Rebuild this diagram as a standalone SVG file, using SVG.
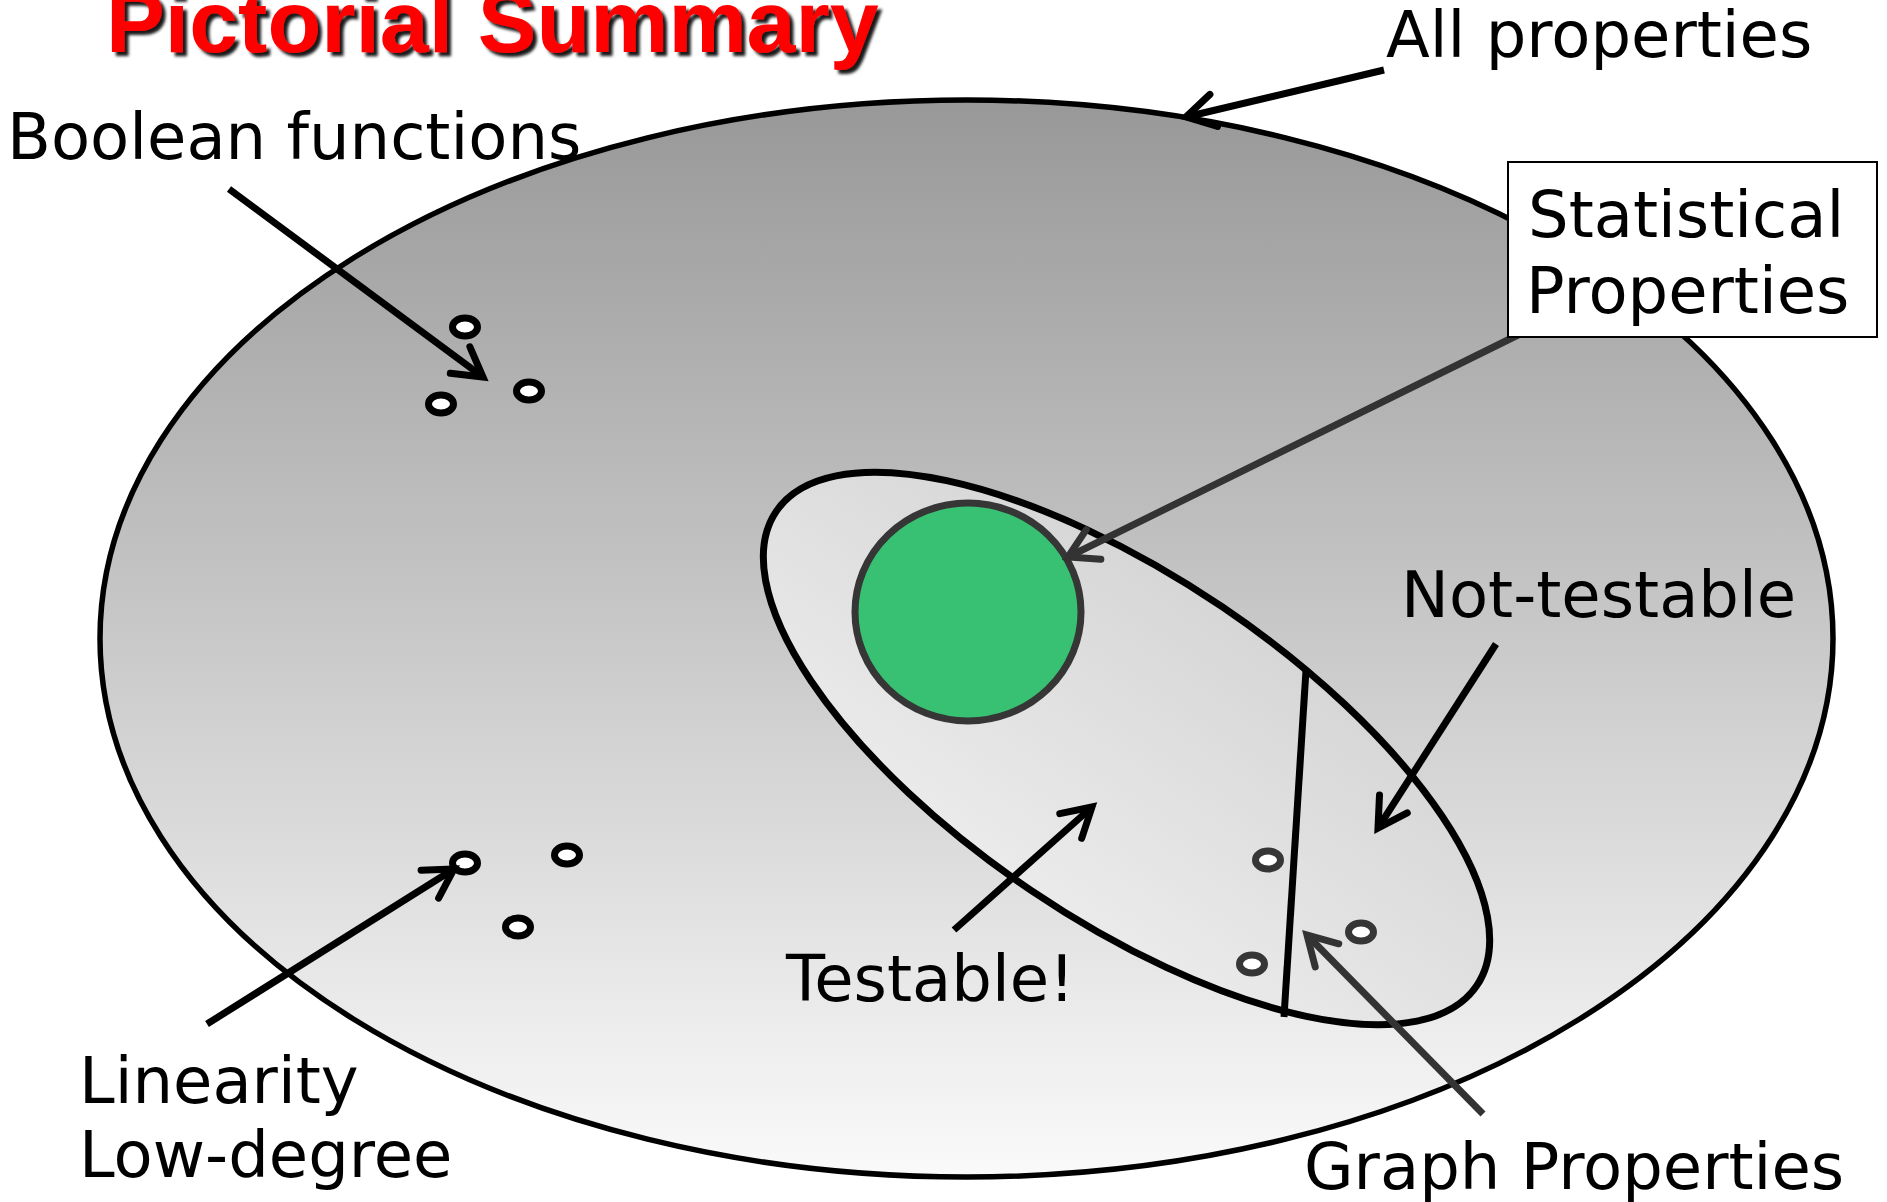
<svg xmlns="http://www.w3.org/2000/svg" width="1887" height="1202" viewBox="0 0 1887 1202">
<defs>
<linearGradient id="gOuter" gradientUnits="userSpaceOnUse" x1="0" y1="100" x2="0" y2="1177">
<stop offset="0" stop-color="#989898"/>
<stop offset="1" stop-color="#fafafa"/>
</linearGradient>
<linearGradient id="gInner" gradientUnits="userSpaceOnUse" x1="0" y1="472" x2="0" y2="1025">
<stop offset="0" stop-color="#d0d0d0"/>
<stop offset="1" stop-color="#f1f1f1"/>
</linearGradient>
<filter id="shadow" x="-5%" y="-50%" width="110%" height="200%">
<feDropShadow dx="4" dy="4" stdDeviation="1.5" flood-color="#000" flood-opacity="0.9"/>
</filter>
<marker id="arrK" markerUnits="userSpaceOnUse" viewBox="-40 -25 50 50" markerWidth="50" markerHeight="50" refX="0" refY="0" orient="auto" overflow="visible">
<path d="M -28.5,-16.5 L 0,0 L -28.5,16.5" fill="none" stroke="#000" stroke-width="7" stroke-linecap="round" stroke-linejoin="miter"/>
</marker>
<marker id="arrG" markerUnits="userSpaceOnUse" viewBox="-40 -25 50 50" markerWidth="50" markerHeight="50" refX="0" refY="0" orient="auto" overflow="visible">
<path d="M -28.5,-16.5 L 0,0 L -28.5,16.5" fill="none" stroke="#333" stroke-width="7" stroke-linecap="round" stroke-linejoin="miter"/>
</marker>
</defs>
<style>
.lbl{font-family:"DejaVu Sans","Verdana",sans-serif;font-size:64px;fill:#000}
.dot{fill:#fff;stroke:#000;stroke-width:7}
.dotg{fill:#fff;stroke:#363636;stroke-width:7}
.conK{fill:none;stroke:#000;stroke-width:7;marker-end:url(#arrK)}
.conG{fill:none;stroke:#333;stroke-width:7;marker-end:url(#arrG)}
</style>
<rect width="1887" height="1202" fill="#fff"/>

<g id="all-properties">
<ellipse cx="966.5" cy="638.5" rx="866.5" ry="538.5" fill="url(#gOuter)" stroke="#000" stroke-width="5.5"/>
</g>

<g id="testable-region">
<ellipse cx="1126.5" cy="748.5" rx="423" ry="171" transform="rotate(34.1 1126.5 748.5)" fill="url(#gInner)" stroke="#000" stroke-width="7"/>
<line x1="1306" y1="670" x2="1284" y2="1017" stroke="#000" stroke-width="7"/>
</g>

<g id="statistical-circle">
<ellipse cx="968" cy="612" rx="113" ry="109" fill="#38c173" stroke="#363636" stroke-width="7"/>
</g>

<g id="boolean-dots">
<ellipse class="dot" cx="465" cy="327" rx="12.5" ry="9"/>
<ellipse class="dot" cx="529" cy="391" rx="12.5" ry="9"/>
<ellipse class="dot" cx="441" cy="404" rx="12.5" ry="9"/>
</g>

<g id="linearity-dots">
<ellipse class="dot" cx="465" cy="863" rx="12.5" ry="9"/>
<ellipse class="dot" cx="567" cy="855" rx="12.5" ry="9"/>
<ellipse class="dot" cx="518" cy="927" rx="12.5" ry="9"/>
</g>

<g id="graph-dots">
<ellipse class="dotg" cx="1268" cy="860" rx="12.5" ry="9"/>
<ellipse class="dotg" cx="1361" cy="932" rx="12.5" ry="9"/>
<ellipse class="dotg" cx="1252" cy="964" rx="12.5" ry="9"/>
</g>

<g id="connectors">
<line class="conK" x1="1384" y1="70" x2="1186" y2="117"/>
<line class="conK" x1="229" y1="189" x2="483" y2="377"/>
<line class="conG" x1="1520" y1="334" x2="1068" y2="557"/>
<line class="conK" x1="1496" y1="644" x2="1378" y2="828"/>
<line class="conK" x1="954" y1="930" x2="1092" y2="807"/>
<line class="conK" x1="207" y1="1024" x2="454" y2="869"/>
<line class="conG" x1="1483" y1="1114" x2="1307" y2="935"/>
</g>

<g id="statistical-box">
<rect x="1508" y="162" width="369" height="175" fill="#fff" stroke="#000" stroke-width="2"/>
<text class="lbl" x="1528" y="237">Statistical</text>
<text class="lbl" x="1526" y="313">Properties</text>
</g>

<g id="title">
<text x="106" y="52" font-family="Liberation Sans, Arial, sans-serif" font-weight="bold" font-size="88" fill="#ff0000" filter="url(#shadow)">Pictorial Summary</text>
</g>

<g id="labels">
<text class="lbl" x="1386" y="57">All properties</text>
<text class="lbl" x="7" y="159">Boolean functions</text>
<text class="lbl" x="1401" y="617">Not-testable</text>
<text class="lbl" x="786" y="1001">Testable!</text>
<text class="lbl" x="79" y="1103">Linearity</text>
<text class="lbl" x="79" y="1177">Low-degree</text>
<text class="lbl" x="1304" y="1189">Graph Properties</text>
</g>
</svg>
